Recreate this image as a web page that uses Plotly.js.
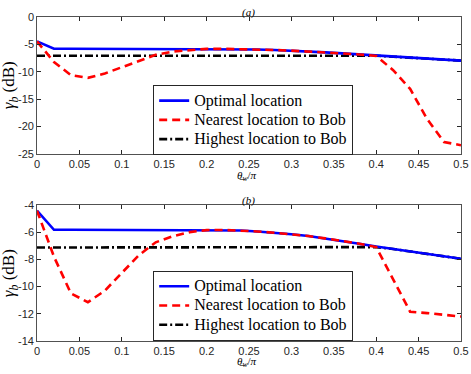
<!DOCTYPE html>
<html>
<head>
<meta charset="utf-8">
<script src="https://cdn.plot.ly/plotly-3.0.1.min.js"></script>
<style>body{margin:0;background:#fff}</style>
</head>
<body>
<div id="graph" style="width:471px;height:374px"></div>
<script>
// theta_w / pi samples
var theta = [0, 0.02, 0.04, 0.06, 0.08, 0.10, 0.12, 0.14, 0.16, 0.18, 0.20, 0.22, 0.24,
             0.26, 0.28, 0.30, 0.32, 0.34, 0.36, 0.38, 0.40, 0.42, 0.44, 0.46, 0.48, 0.50];

// (a)
var optimalA = [-4.45, -5.8, -5.8, -5.8, -5.8, -5.8, -5.8, -5.8, -5.8, -5.8, -5.8, -5.81, -5.85,
                -5.92, -6.02, -6.14, -6.28, -6.45, -6.64, -6.84, -7.05, -7.24, -7.42, -7.6, -7.78, -7.96];
var nearestA = [-4.45, -8.2, -10.6, -11.1, -10.3, -9.2, -8.0, -6.9, -6.3, -6.0, -5.82, -5.81, -5.85,
                -5.92, -6.02, -6.14, -6.28, -6.45, -6.64, -6.84, -7.1, -9.7, -13.1, -18.6, -22.8, -23.4];
var highestA = [-7.08, -7.08, -7.08, -7.08, -7.08, -7.08, -7.08, -7.08, -7.08, -7.08, -7.08, -7.08, -7.08,
                -7.08, -7.08, -7.08, -7.08, -7.08, -7.08, -7.08, -7.08, -7.24, -7.42, -7.6, -7.78, -7.96];

// (b)
var optimalB = [-4.42, -5.83, -5.83, -5.83, -5.83, -5.83, -5.83, -5.83, -5.83, -5.83, -5.83, -5.84, -5.88,
                -5.95, -6.04, -6.15, -6.29, -6.46, -6.65, -6.85, -7.06, -7.24, -7.42, -7.6, -7.78, -7.96];
var nearestB = [-4.42, -7.8, -10.5, -11.15, -10.3, -9.0, -7.7, -6.75, -6.3, -6.0, -5.85, -5.84, -5.88,
                -5.95, -6.04, -6.15, -6.29, -6.46, -6.65, -6.85, -7.1, -9.5, -11.85, -11.95, -12.05, -12.2];
var highestB = [-7.13, -7.13, -7.13, -7.13, -7.13, -7.13, -7.13, -7.13, -7.13, -7.13, -7.13, -7.13, -7.13,
                -7.13, -7.13, -7.13, -7.13, -7.13, -7.13, -7.13, -7.1, -7.24, -7.42, -7.6, -7.78, -7.96];

var names = ["Optimal location", "Nearest location to Bob", "Highest location to Bob"];
var xticks = [0, 0.05, 0.1, 0.15, 0.2, 0.25, 0.3, 0.35, 0.4, 0.45, 0.5];
var yticksA = [0, -5, -10, -15, -20, -25];
var yticksB = [-4, -6, -8, -10, -12, -14];

function series(y, i, xa, ya, leg) {
    var styles = [
        {color: "#0000ff", width: 2.6, dash: "solid"},
        {color: "#ff0000", width: 2.6, dash: "8px,5px"},
        {color: "#000000", width: 2.6, dash: "8px,3px,2px,3px"}
    ];
    return {
        x: theta, y: y, type: "scatter", mode: "lines",
        // big text in a legend with tight rows
        name: '<span style="font-size:16px">' + names[i] + "</span>",
        xaxis: xa, yaxis: ya, legend: leg, legendrank: i + 1, line: styles[i]
    };
}

// black drawn first so blue/red sit on top of it
var data = [
    series(highestA, 2, "x", "y", "legend"),
    series(optimalA, 0, "x", "y", "legend"),
    series(nearestA, 1, "x", "y", "legend"),
    series(highestB, 2, "x2", "y2", "legend2"),
    series(optimalB, 0, "x2", "y2", "legend2"),
    series(nearestB, 1, "x2", "y2", "legend2")
];

var tickFont = {family: "Liberation Sans, Arial, sans-serif", size: 11, color: "#262626"};

function xaxis(anchor) {
    return {
        anchor: anchor, domain: [0, 1], range: [0, 0.5],
        tickvals: xticks, ticktext: xticks.map(String),
        ticks: "inside", ticklen: 4, tickcolor: "#262626",
        showline: true, mirror: "ticks", linecolor: "#262626", linewidth: 0.8,
        showgrid: false, zeroline: false, tickfont: tickFont
    };
}
function yaxis(anchor, dom, rng, vals) {
    return {
        anchor: anchor, domain: dom, range: rng,
        tickvals: vals, ticktext: vals.map(String),
        ticks: "inside", ticklen: 4, tickcolor: "#262626",
        showline: true, mirror: "ticks", linecolor: "#262626", linewidth: 0.8,
        showgrid: false, zeroline: false, tickfont: tickFont
    };
}

var legendStyle = {
    x: 0.274, xanchor: "left", yanchor: "top",
    bgcolor: "#ffffff", bordercolor: "#262626", borderwidth: 1,
    font: {family: "Liberation Serif, Times New Roman, serif", size: 12.5, color: "#000"},
    traceorder: "normal", tracegroupgap: 0, itemwidth: 30
};

var serif = "Liberation Serif, Times New Roman, serif";

function note(text, x, y, size, angle) {
    return {text: text, xref: "paper", yref: "paper", x: x, y: y,
            xanchor: "center", yanchor: "middle", textangle: angle || 0,
            showarrow: false, font: {family: serif, size: size, color: "#000"}};
}

var thetaLabel = "<i>θ\u0332</i><sub><i>w</i></sub>/<i>π</i>";
var gammaLabel = "<i>γ</i><sub><i>b</i></sub> (dB)";

var layout = {
    width: 471, height: 374,
    margin: {l: 37, r: 10, t: 17, b: 33},
    paper_bgcolor: "#ffffff", plot_bgcolor: "#ffffff",
    showlegend: true,
    xaxis: xaxis("y"),
    yaxis: yaxis("x", [0.577, 1], [-25, 0], yticksA),
    xaxis2: xaxis("y2"),
    yaxis2: yaxis("x2", [0, 0.42], [-14, -4], yticksB),
    legend: Object.assign({}, legendStyle, {y: 0.79}),
    legend2: Object.assign({}, legendStyle, {y: 0.217}),
    annotations: [
        note("<i>(a)</i>", 0.498, 1.014, 11),
        note("<i>(b)</i>", 0.498, 0.435, 11),
        note(thetaLabel, 0.495, 0.51, 11),
        note(thetaLabel, 0.495, -0.066, 11),
        note(gammaLabel, -0.063, 0.79, 17, -90),
        note(gammaLabel, -0.063, 0.21, 17, -90)
    ]
};

Plotly.newPlot("graph", data, layout, {displayModeBar: false, staticPlot: true});
</script>
</body>
</html>
